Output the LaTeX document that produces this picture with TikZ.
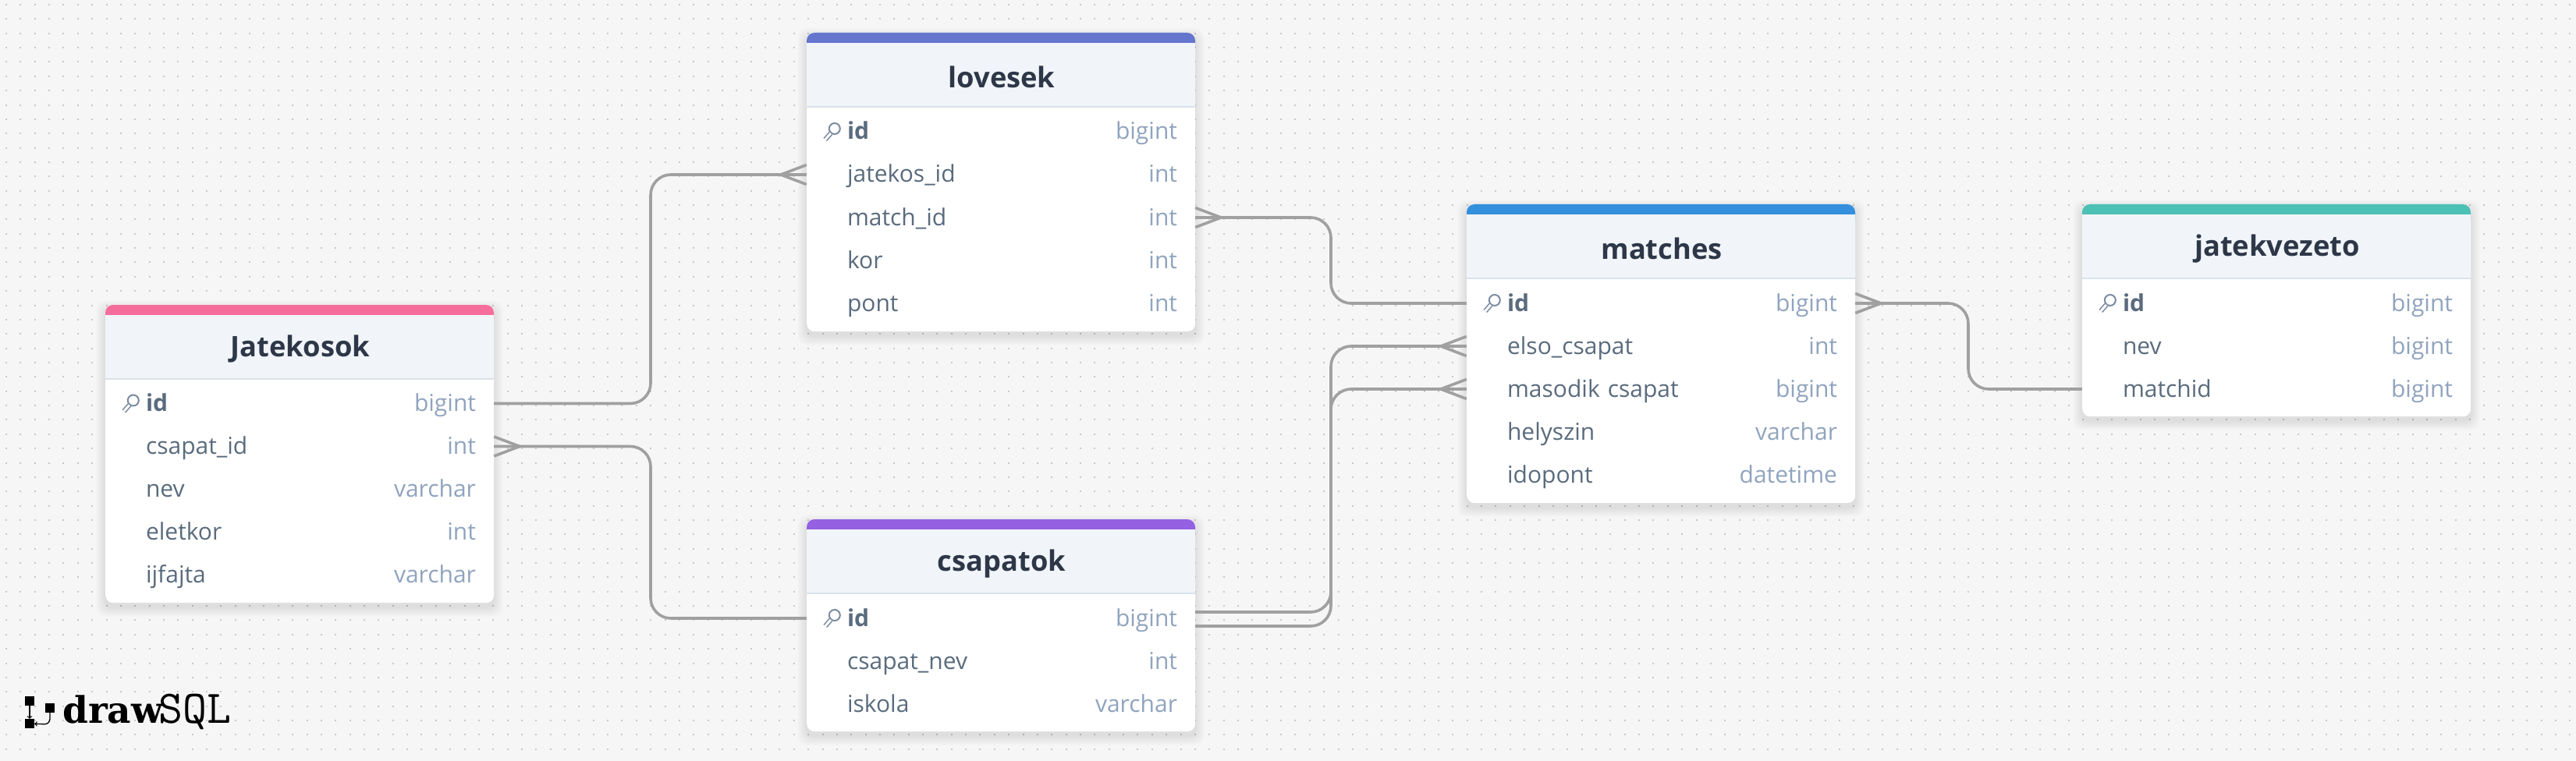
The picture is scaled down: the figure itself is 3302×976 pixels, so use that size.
\documentclass[tikz,border=0pt]{standalone}
\usepackage{fontspec}
\setmainfont{Open Sans}
\usetikzlibrary{calc}

\definecolor{pagegray}{HTML}{F6F6F6}
\definecolor{dotgray}{HTML}{C8C8C8}
\definecolor{headgray}{HTML}{F1F5F9}
\definecolor{headline}{HTML}{D9E2EC}
\definecolor{titleink}{HTML}{2D3748}
\definecolor{fieldink}{HTML}{5A6B7D}
\definecolor{typeink}{HTML}{90A4BE}
\definecolor{linegray}{HTML}{A0A0A0}
\definecolor{pinkbar}{HTML}{F66D9B}
\definecolor{indigobar}{HTML}{6574CD}
\definecolor{purplebar}{HTML}{9561E2}
\definecolor{bluebar}{HTML}{3490DC}
\definecolor{tealbar}{HTML}{4DC0B5}

\tikzset{
  cardbox/.style={anchor=north west, fill=white, rounded corners=10pt, inner sep=0pt, minimum width=498pt},
  cardtitle/.style={inner sep=0pt, text=titleink, font=\fontsize{36.3}{40}\selectfont\bfseries},
  fieldrow/.style={inner sep=0pt, text width=498pt, align=left, minimum height=55pt,
    text height=25pt, text depth=5pt, text=fieldink, font=\fontsize{30}{36}\selectfont},
  relline/.style={draw=linegray, line width=3.6pt},
  logobox/.style={fill=black, inner sep=0pt, minimum size=12pt},
}

% card with its soft shadow, colour bar, head and title
\newcommand{\erCard}[6]{
  \foreach \sp in {1,...,12}
    \fill[black, opacity=.008, rounded corners=12pt] ({#2-\sp},{#3+6-\sp}) rectangle ({#2+498+\sp},{#3+#4+6+\sp});
  \node[cardbox, minimum height=#4pt] (#1) at (#2,#3) {};
  \fill[#5, rounded corners=10pt] (#2,#3) rectangle ({#2+498},{#3+30});
  \fill[headgray] (#2,{#3+13}) rectangle ({#2+498},{#3+95});
  \draw[headline, line width=2pt] (#2,{#3+95}) -- ({#2+498},{#3+95});
  \node[cardtitle] (#1-title) at ({#2+250},{#3+57}) {#6};
}
\newcommand{\erRows}[4]{
  \foreach \fname/\ftype [count=\i] in {#4}
    \node[fieldrow] (#1-\i) at ({#2+249},{#3+127+55*(\i-1)})
      {\hspace*{52pt}\fname\hfill{\color{typeink}\ftype}\hspace*{23pt}};
}
\newcommand{\keyIcon}[1]{
  \begin{scope}[shift={(#1-1.west)}]
    \draw[typeink!85!black, line width=2pt] (36,-4) circle (7);
    \draw[typeink!85!black, line width=1.6pt, double=white, double distance=3pt] (31,2) -- (24,10);
  \end{scope}
}
\newcommand{\crowFoot}[2]{
  \draw[relline] ([xshift=#2pt]#1) -- ([yshift=12.5pt]#1) ([xshift=#2pt]#1) -- ([yshift=-12.5pt]#1);
}

\begin{document}
\begin{tikzpicture}[x=1pt,y=-1pt]
\useasboundingbox (0,0) rectangle (3302,976);
\fill[pagegray] (0,0) rectangle (3302,976);
\foreach \r in {0,...,52}
  \draw[dotgray, line width=2pt, dash pattern=on 2pt off 16.36pt] (7,{6+18.36*\r}) -- (3302,{6+18.36*\r});

% tables
\erCard{jatekosok}{135}{391}{382}{pinkbar}{Jatekosok}
\erRows{jatekosok}{135}{390.5}{\textbf{id}/bigint, csapat\_id/int, nev/varchar, eletkor/int, ijfajta/varchar}
\erCard{lovesek}{1034}{42}{383}{indigobar}{lovesek}
\erRows{lovesek}{1034}{42}{\textbf{id}/bigint, jatekos\_id/int, match\_id/int, kor/int, pont/int}
\erCard{csapatok}{1034}{666}{272}{purplebar}{csapatok}
\erRows{csapatok}{1034}{666}{\textbf{id}/bigint, csapat\_nev/int, iskola/varchar}
\erCard{matches}{1880}{262}{383}{bluebar}{matches}
\erRows{matches}{1880}{262}{\textbf{id}/bigint, elso\_csapat/int, masodik csapat/bigint, helyszin/varchar, idopont/datetime}
\erCard{jatekvezeto}{2669}{262}{272}{tealbar}{jatekvezeto}
\erRows{jatekvezeto}{2669}{262}{\textbf{id}/bigint, nev/bigint, matchid/bigint}

\keyIcon{jatekosok}
\keyIcon{lovesek}
\keyIcon{csapatok}
\keyIcon{matches}
\keyIcon{jatekvezeto}

% connectors
\coordinate (laneleft) at (834,0);
\coordinate (lanemid) at (1706,0);
\coordinate (laneright) at (2523,0);
\draw[relline, rounded corners=26pt] (jatekosok-1.east) -- (jatekosok-1.east -| laneleft) -- (lovesek-2.west -| laneleft) -- (lovesek-2.west);
\crowFoot{lovesek-2.west}{-33}
\draw[relline, rounded corners=26pt] (jatekosok-2.east) -- (jatekosok-2.east -| laneleft) -- (csapatok-1.west -| laneleft) -- (csapatok-1.west);
\crowFoot{jatekosok-2.east}{33}
\draw[relline, rounded corners=26pt] (lovesek-3.east) -- (lovesek-3.east -| lanemid) -- (matches-1.west -| lanemid) -- (matches-1.west);
\crowFoot{lovesek-3.east}{33}
\draw[relline, rounded corners=26pt] ([yshift=-10pt]csapatok-1.east) -- ([yshift=-10pt]csapatok-1.east -| lanemid) -- (matches-2.west -| lanemid) -- (matches-2.west);
\crowFoot{matches-2.west}{-33}
\draw[relline, rounded corners=26pt] ([yshift=8pt]csapatok-1.east) -- ([yshift=8pt]csapatok-1.east -| lanemid) -- (matches-3.west -| lanemid) -- (matches-3.west);
\crowFoot{matches-3.west}{-33}
\draw[relline, rounded corners=26pt] (matches-1.east) -- (matches-1.east -| laneright) -- (jatekvezeto-3.west -| laneright) -- (jatekvezeto-3.west);
\crowFoot{matches-1.east}{33}

% logo
\node[logobox] (logotop) at (38,899) {};
\node[logobox] (logoright) at (64,908) {};
\node[logobox] (logobottom) at (38,928) {};
\draw[->, line width=1.3pt] (logotop) -- (logobottom);
\draw[->, line width=1.3pt, rounded corners=7pt] (logoright) -- (64,929) -- (logobottom);
\node[anchor=base west, inner sep=0pt, font=\fontsize{47}{48}\fontspec{DejaVu Serif}\bfseries] (logodraw) at (80,927) {draw};
\node[anchor=base west, inner sep=0pt, font=\fontsize{60}{62}\ttfamily] (logosql) at (203,927) {SQL};
\end{tikzpicture}
\end{document}
